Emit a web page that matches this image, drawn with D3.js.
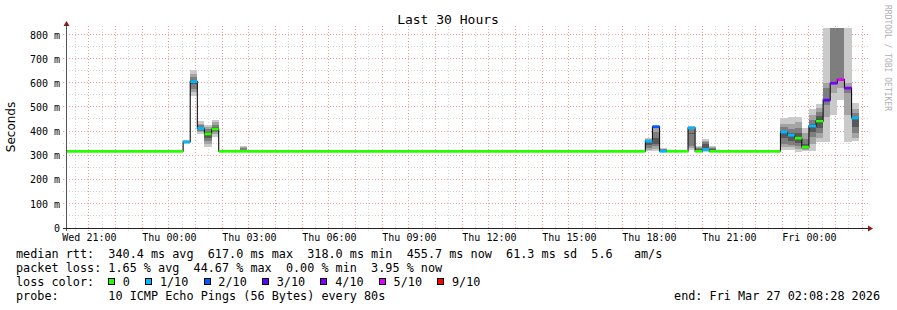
<!DOCTYPE html>
<html><head><meta charset="utf-8">
<script src="https://cdn.jsdelivr.net/npm/d3@7"></script>
<style>
html,body{margin:0;padding:0;background:#fff;}
svg{display:block;}
text{font-family:"DejaVu Sans Mono",monospace;}
</style></head><body>
<svg id="chart" width="897" height="310"></svg>
<script>
// ---------------- data ----------------
const title = "Last 30 Hours";
const yLabel = "Seconds";
const watermark = "RRDTOOL / TOBI OETIKER";
const timeStart = "2026-03-25 20:08:28";
const timeEnd = "2026-03-27 02:08:28";
const yTicks = [0, 100, 200, 300, 400, 500, 600, 700, 800];          // ms
const xTickTimes = ["2026-03-25 21:00:00","2026-03-26 00:00:00","2026-03-26 03:00:00","2026-03-26 06:00:00",
  "2026-03-26 09:00:00","2026-03-26 12:00:00","2026-03-26 15:00:00","2026-03-26 18:00:00",
  "2026-03-26 21:00:00","2026-03-27 00:00:00"];
const xTickLabels = ["Wed 21:00","Thu 00:00","Thu 03:00","Thu 06:00","Thu 09:00","Thu 12:00",
  "Thu 15:00","Thu 18:00","Thu 21:00","Fri 00:00"];

// segment boundaries (n+1 times for n segments)
const segTimes = [
  "2026-03-25 20:08:28",
  "2026-03-26 00:32:00","2026-03-26 00:48:00","2026-03-26 01:04:00","2026-03-26 01:20:00","2026-03-26 01:36:00",
  "2026-03-26 01:52:00","2026-03-26 02:40:00","2026-03-26 02:56:00",
  "2026-03-26 17:52:00","2026-03-26 18:08:00","2026-03-26 18:24:00","2026-03-26 18:40:00",
  "2026-03-26 19:28:00","2026-03-26 19:44:00","2026-03-26 20:00:00","2026-03-26 20:16:00","2026-03-26 20:32:00",
  "2026-03-26 22:56:00","2026-03-26 23:12:00","2026-03-26 23:28:00","2026-03-26 23:44:00",
  "2026-03-27 00:00:00","2026-03-27 00:16:00","2026-03-27 00:32:00","2026-03-27 00:48:00",
  "2026-03-27 01:04:00","2026-03-27 01:20:00","2026-03-27 01:36:00","2026-03-27 01:52:00"
];
// median rtt per segment (ms)
const segMedian = [318, 357, 607, 413, 390, 410, 318, 318, 318,
  360, 420, 318, 318, 415, 318, 325, 318, 318,
  398, 385, 372, 335, 423, 443, 530, 600, 615, 580, 456];
// packet loss index per segment (index into lossLabels)
const segLoss = [0, 1, 1, 1, 0, 0, 0, 0, 0,
  1, 2, 1, 0, 1, 0, 1, 0, 0,
  1, 1, 0, 0, 1, 0, 3, 4, 5, 4, 1];
// sorted ping rtts per segment (ms) -> smoke
const segPings = [
  [],
  [349,351,353,355,357,358,360,362,365],
  [548,562,578,595,607,615,625,640,655],
  [390,396,403,409,413,418,425,433,444],
  [335,350,362,374,384,392,400,410,418,427],
  [379,388,396,402,408,412,418,428,438,448],
  [],
  [316,317,318,319,320,322,325,330,335,340],
  [],
  [320,324,332,344,355,362,366,370,374],
  [320,328,338,350,372,400,418,422],
  [316,317,318,319,321,324,326,328,330],
  [],
  [322,330,340,388,390,392,412,418,424],
  [316,317,318,320,322,325,328,332,336,340],
  [316,320,324,330,342,350,356,362,369],
  [316,317,318,320,322,325,328,332,336,340],
  [],
  [324,336,350,372,392,404,418,432,456],
  [324,334,346,362,380,392,410,430,460],
  [315,326,340,352,365,378,395,415,440,460],
  [320,322,326,330,334,338,350,368,392,415],
  [320,348,378,400,420,430,448,470,494],
  [357,375,395,415,435,450,465,482,498,514],
  [357,460,510,530,580,600,860],
  [469,560,600,850,860,870],
  [531,580,615,850,860,870],
  [357,470,560,580,600,860],
  [361,372,392,420,450,462,478,495,519]
];
const lossLabels = ["0","1/10","2/10","3/10","4/10","5/10","9/10"];
const lossColors = ["#26ff00","#00b8ff","#0059ff","#5e00ff","#7e00ff","#dd00ff","#ff0000"];
const statsRtt = "median rtt:  340.4 ms avg  617.0 ms max  318.0 ms min  455.7 ms now  61.3 ms sd  5.6   am/s";
const statsLoss = "packet loss: 1.65 % avg  44.67 % max  0.00 % min  3.95 % now";
const lossColorTitle = "loss color:";
const probeText = "probe:       10 ICMP Echo Pings (56 Bytes) every 80s";
const endText = "end: Fri Mar 27 02:08:28 2026";

// ---------------- drawing ----------------
const parse = d3.timeParse("%Y-%m-%d %H:%M:%S");
const svg = d3.select("#chart");
const L = 66, R = 866, B = 228, T = 28;
const x = d3.scaleTime().domain([parse(timeStart), parse(timeEnd)]).range([L, R]);
const y = d3.scaleLinear().domain([0, 800]).range([B, 35]);
const px = v => Math.floor(v) + 0.5;
const nb = s => s.replace(/ /g, "\u00a0");

svg.append("rect").attr("width", 897).attr("height", 310).attr("fill", "#fff");

// grid
const grid = svg.append("g").attr("shape-rendering", "crispEdges").attr("fill", "none");
const t0 = parse(timeStart), t1 = parse(timeEnd);
const halfHours = d3.timeMinute.every(30).range(t0, t1);
halfHours.forEach(d => {
  const major = d.getMinutes() === 0;
  grid.append("line")
    .attr("x1", px(x(d))).attr("x2", px(x(d)))
    .attr("y1", T - 2).attr("y2", B + 3)
    .attr("stroke", major ? "#f59a9a" : "#d2d2d2")
    .attr("stroke-dasharray", "1,2");
});
d3.range(50, 801, 50).forEach(v => {
  const major = v % 100 === 0;
  grid.append("line")
    .attr("x1", L - 3).attr("x2", R + 3)
    .attr("y1", Math.round(y(v)) - 0.5).attr("y2", Math.round(y(v)) - 0.5)
    .attr("stroke", major ? "#f59a9a" : "#d2d2d2")
    .attr("stroke-dasharray", "1,2");
});

// segments
const segs = segMedian.map((m, i) => ({
  t0: parse(segTimes[i]), t1: parse(segTimes[i + 1]),
  median: m, loss: segLoss[i], pings: segPings[i]
}));

svg.append("clipPath").attr("id", "plotclip")
  .append("rect").attr("x", L).attr("y", T).attr("width", R - L).attr("height", B - T);
const plot = svg.append("g").attr("clip-path", "url(#plotclip)");

// smoke
const smoke = plot.append("g").attr("shape-rendering", "crispEdges");
segs.forEach(s => {
  const p = s.pings, n = p.length;
  for (let k = 0; k < Math.floor(n / 2); k++) {
    const lo = p[k], hi = p[n - 1 - k];
    const g = Math.round(190 / 5 * (5 - (k + 1)) + 50);
    smoke.append("rect")
      .attr("x", x(s.t0)).attr("width", x(s.t1) - x(s.t0))
      .attr("y", y(hi)).attr("height", Math.max(1, y(lo) - y(hi)))
      .attr("fill", `rgb(${g},${g},${g})`);
  }
});

// black median step line
const stepPts = segs.map(s => [s.t0, s.median]);
stepPts.push([segs[segs.length - 1].t1, segs[segs.length - 1].median]);
plot.append("path")
  .attr("d", d3.line().x(d => x(d[0])).y(d => y(d[1])).curve(d3.curveStepAfter)(stepPts))
  .attr("fill", "none").attr("stroke", "#111").attr("stroke-width", 1.1);

// coloured median bars
plot.append("g").selectAll("line").data(segs).join("line")
  .attr("x1", d => x(d.t0)).attr("x2", d => x(d.t1))
  .attr("y1", d => y(d.median)).attr("y2", d => y(d.median))
  .attr("stroke", d => lossColors[d.loss]).attr("stroke-width", 2.8);

// axes
const axG = svg.append("g").attr("shape-rendering", "crispEdges");
axG.append("line").attr("x1", L + 0.5).attr("x2", L + 0.5).attr("y1", B + 3).attr("y2", T - 3)
  .attr("stroke", "#555");
axG.append("line").attr("x1", L - 3).attr("x2", R + 4).attr("y1", B + 0.5).attr("y2", B + 0.5)
  .attr("stroke", "#222");
svg.append("path").attr("d", `M${L - 2.5},${T - 2} L${L + 3.5},${T - 2} L${L + 0.5},${T - 7} Z`).attr("fill", "#8b1a1a");
svg.append("path").attr("d", `M${R + 2},${B - 2.5} L${R + 2},${B + 3.5} L${R + 7},${B + 0.5} Z`).attr("fill", "#8b1a1a");

const yAxis = svg.append("g").attr("transform", `translate(${L},0)`)
  .call(d3.axisLeft(y).tickValues(yTicks).tickSize(0).tickPadding(6)
    .tickFormat(v => v === 0 ? "0" : v + "\u00a0m"));
yAxis.select(".domain").remove();
yAxis.selectAll("text").attr("font-family", "DejaVu Sans Mono").attr("font-size", 10).attr("fill", "#000");

const xTickDates = xTickTimes.map(parse);
const xAxis = svg.append("g").attr("transform", `translate(0,${B})`)
  .call(d3.axisBottom(x).tickValues(xTickDates).tickSize(0).tickPadding(6)
    .tickFormat((d, i) => nb(xTickLabels[i])));
xAxis.select(".domain").remove();
xAxis.selectAll("text").attr("font-family", "DejaVu Sans Mono").attr("font-size", 10).attr("fill", "#000");

// title, y label, watermark
svg.append("text").attr("x", 448).attr("y", 24).attr("text-anchor", "middle")
  .attr("font-size", 13).attr("fill", "#000").text(nb(title));
svg.append("text").attr("transform", "translate(15,127) rotate(-90)").attr("text-anchor", "middle")
  .style("font-family", "'DejaVu Sans'")
  .attr("font-size", 12).attr("fill", "#000").text(yLabel);
svg.append("text").attr("transform", "translate(885,5) rotate(90)")
  .attr("font-size", 8).attr("fill", "#b0b0b0").text(nb(watermark));

// legend / stats
const fs = 11.8;
const legend = svg.append("g").attr("font-size", fs).attr("fill", "#000");
legend.append("text").attr("x", 16).attr("y", 258).text(nb(statsRtt));
legend.append("text").attr("x", 16).attr("y", 272).text(nb(statsLoss));
legend.append("text").attr("x", 16).attr("y", 286).text(nb(lossColorTitle));
legend.append("text").attr("x", 16).attr("y", 299.5).text(nb(probeText));
legend.append("text").attr("x", 880).attr("y", 299.5).attr("text-anchor", "end").text(nb(endText));

let bx = 108;
lossLabels.forEach((lab, i) => {
  legend.append("rect").attr("x", bx + 0.5).attr("y", 278.5).attr("width", 6).attr("height", 6)
    .attr("fill", lossColors[i]).attr("stroke", "#000").attr("stroke-width", 1)
    .attr("shape-rendering", "crispEdges");
  const t = legend.append("text").attr("x", bx + 14.8).attr("y", 286).text(lab);
  bx = bx + 14.8 + t.node().getComputedTextLength() + 15.2;
});
</script>
</body></html>
